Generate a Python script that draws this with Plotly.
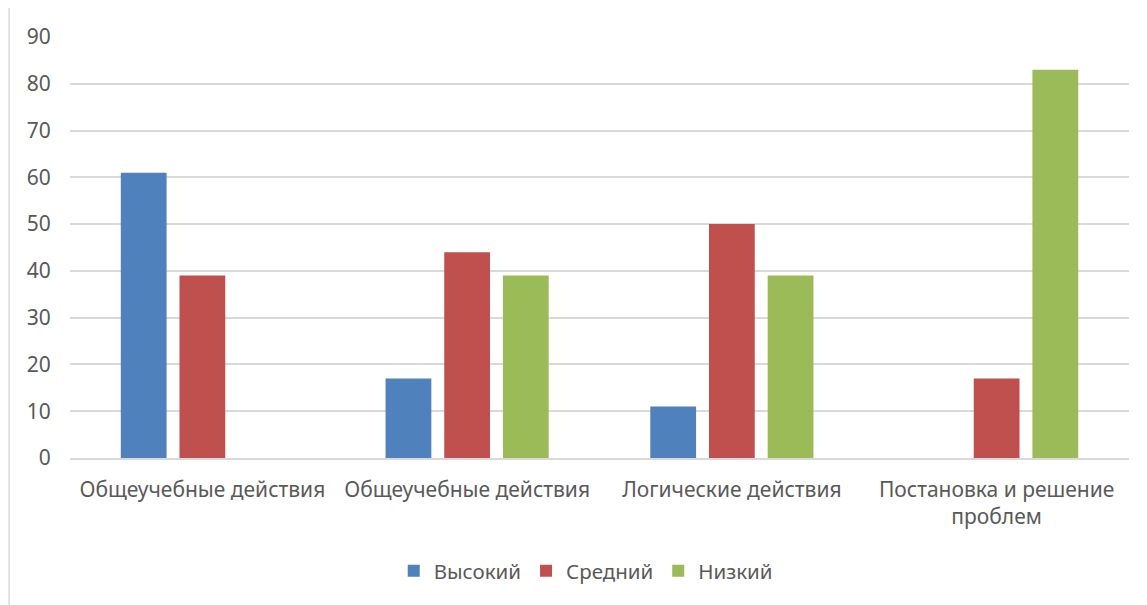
import plotly.graph_objects as go

categories = ["Общеучебные действия", "Общеучебные действия", "Логические действия", "Постановка и решение<br>проблем"]
series_names = ["Высокий", "Средний", "Низкий"]
high = [61, 17, 11, 0]
medium = [39, 44, 50, 17]
low = [0, 39, 39, 83]
y_ticks = [0, 10, 20, 30, 40, 50, 60, 70, 80, 90]

colors = ["#4F81BD", "#C0504D", "#9BBB59"]
positions = list(range(len(categories)))

fig = go.Figure()
for name, vals, col in zip(series_names, [high, medium, low], colors):
    fig.add_trace(go.Bar(x=positions, y=vals, name=name, marker=dict(color=col, line=dict(width=0))))

font_family = "Noto Sans"
text_color = "#595959"
fs = 21

fig.update_layout(
    width=1147, height=605,
    margin=dict(l=62, r=26, t=29, b=155),
    paper_bgcolor="white", plot_bgcolor="white",
    barmode="group", bargap=0.335, bargroupgap=0.22,
    font=dict(family=font_family, size=fs, color=text_color),
    showlegend=True,
    legend=dict(orientation="h", x=0.487, xanchor="center", y=-0.268, yanchor="middle",
                font=dict(size=20.5, color=text_color), itemwidth=30, traceorder="normal"),
    xaxis=dict(tickvals=positions, ticktext=categories, range=[-0.5, 3.5],
               showgrid=False, showline=True, linecolor="#D9D9D9", linewidth=1.5,
               ticks="outside", ticklen=12, tickcolor="rgba(0,0,0,0)",
               tickfont=dict(size=fs, color=text_color)),
    yaxis=dict(range=[0, 90], tickvals=y_ticks, showgrid=True, gridcolor="#D9D9D9", gridwidth=1.5,
               zeroline=False, showline=False,
               ticks="outside", ticklen=14, tickcolor="rgba(0,0,0,0)",
               tickfont=dict(size=fs, color=text_color)),
    shapes=[dict(type="line", xref="paper", yref="paper", x0=-0.0575, x1=-0.0575, y0=-0.5, y1=1.2,
                 line=dict(color="#D9D9D9", width=1.5))],
)

fig.write_html("out.html")
